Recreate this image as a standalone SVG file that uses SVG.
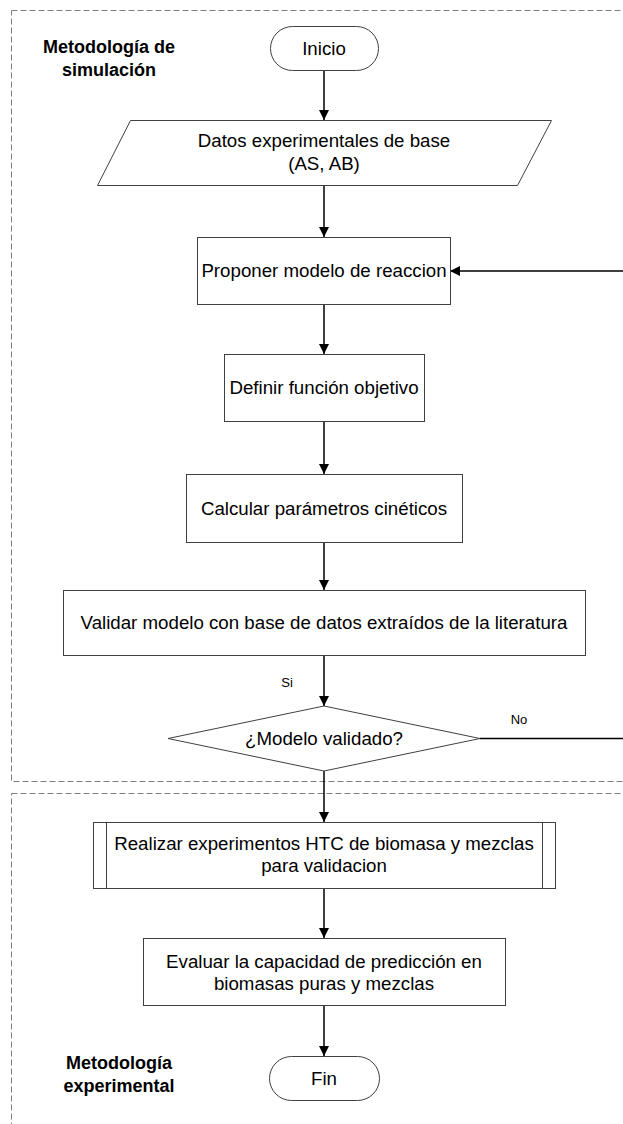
<svg xmlns="http://www.w3.org/2000/svg" width="623" height="1124" viewBox="0 0 623 1124">
<defs>
<style>
.lane{fill:none;stroke:#7f7f7f;stroke-width:1;stroke-dasharray:6,3}
.shape{fill:#ffffff;stroke:#404040;stroke-width:1}
.t{font-family:"Liberation Sans",Arial,sans-serif;font-size:18.7px;fill:#000;text-anchor:middle}
.lb{font-family:"Liberation Sans",Arial,sans-serif;font-size:18px;font-weight:bold;fill:#000;text-anchor:middle}
.sm{font-family:"Liberation Sans",Arial,sans-serif;font-size:13px;fill:#000;text-anchor:middle}
.c{fill:none;stroke:#000;stroke-width:1.5}
</style>
<marker id="arr" viewBox="0 0 10 10" refX="10" refY="5" markerWidth="10" markerHeight="10" markerUnits="userSpaceOnUse" orient="auto">
<path d="M0,0 L10,5 L0,10 z" fill="#000"/>
</marker>
</defs>
<rect width="623" height="1124" fill="#ffffff"/>
<g id="lane-simulacion">
<rect class="lane" x="11.5" y="10.5" width="640" height="771"/>
<text class="lb" x="109" y="53">Metodología de</text>
<text class="lb" x="109" y="76">simulación</text>
</g>
<g id="lane-experimental">
<rect class="lane" x="11.5" y="793.5" width="640" height="360"/>
<text class="lb" x="119" y="1069">Metodología</text>
<text class="lb" x="119" y="1092">experimental</text>
</g>
<g id="connectors">
<line class="c" x1="324" y1="71" x2="324" y2="120" marker-end="url(#arr)"/>
<line class="c" x1="324" y1="185" x2="324" y2="237" marker-end="url(#arr)"/>
<line class="c" x1="324" y1="304" x2="324" y2="354" marker-end="url(#arr)"/>
<line class="c" x1="324" y1="421" x2="324" y2="474" marker-end="url(#arr)"/>
<line class="c" x1="324" y1="542" x2="324" y2="590" marker-end="url(#arr)"/>
<line class="c" x1="324" y1="655" x2="324" y2="706" marker-end="url(#arr)"/>
<line class="c" x1="324" y1="771" x2="324" y2="822" marker-end="url(#arr)"/>
<line class="c" x1="324" y1="888" x2="324" y2="938" marker-end="url(#arr)"/>
<line class="c" x1="324" y1="1005" x2="324" y2="1056" marker-end="url(#arr)"/>
<line class="c" x1="480" y1="738.5" x2="623" y2="738.5"/>
<line class="c" x1="623" y1="271" x2="450" y2="271" marker-end="url(#arr)"/>
<text class="sm" x="287" y="687">Si</text>
<text class="sm" x="519" y="724">No</text>
</g>
<g id="inicio">
<rect class="shape" x="270.5" y="26.5" width="108" height="44" rx="22" ry="22"/>
<text class="t" x="324" y="55">Inicio</text>
</g>
<g id="datos">
<polygon class="shape" points="130.5,120.5 551.5,120.5 517.5,185.5 97.5,185.5"/>
<text class="t" x="324" y="147">Datos experimentales de base</text>
<text class="t" x="324" y="170">(AS, AB)</text>
</g>
<g id="proponer">
<rect class="shape" x="197.5" y="237.5" width="253" height="67"/>
<text class="t" x="324" y="277">Proponer modelo de reaccion</text>
</g>
<g id="definir">
<rect class="shape" x="224.5" y="354.5" width="200" height="67"/>
<text class="t" x="324" y="394">Definir función objetivo</text>
</g>
<g id="calcular">
<rect class="shape" x="186.5" y="474.5" width="276" height="68"/>
<text class="t" x="324" y="515">Calcular parámetros cinéticos</text>
</g>
<g id="validar">
<rect class="shape" x="63.5" y="590.5" width="522" height="65"/>
<text class="t" x="324" y="629">Validar modelo con base de datos extraídos de la literatura</text>
</g>
<g id="decision">
<polygon class="shape" points="324,706 480,738.5 324,771 168,738.5"/>
<text class="t" x="324" y="745">¿Modelo validado?</text>
</g>
<g id="realizar">
<rect class="shape" x="93.5" y="822.5" width="462" height="66"/>
<line class="shape" x1="106.5" y1="822.5" x2="106.5" y2="888.5"/>
<line class="shape" x1="542.5" y1="822.5" x2="542.5" y2="888.5"/>
<text class="t" x="324" y="850">Realizar experimentos HTC de biomasa y mezclas</text>
<text class="t" x="324" y="872">para validacion</text>
</g>
<g id="evaluar">
<rect class="shape" x="143.5" y="938.5" width="362" height="67"/>
<text class="t" x="324" y="968">Evaluar la capacidad de predicción en</text>
<text class="t" x="324" y="990">biomasas puras y mezclas</text>
</g>
<g id="fin">
<rect class="shape" x="269.5" y="1056.5" width="110" height="44" rx="22" ry="22"/>
<text class="t" x="324" y="1085">Fin</text>
</g>
</svg>
